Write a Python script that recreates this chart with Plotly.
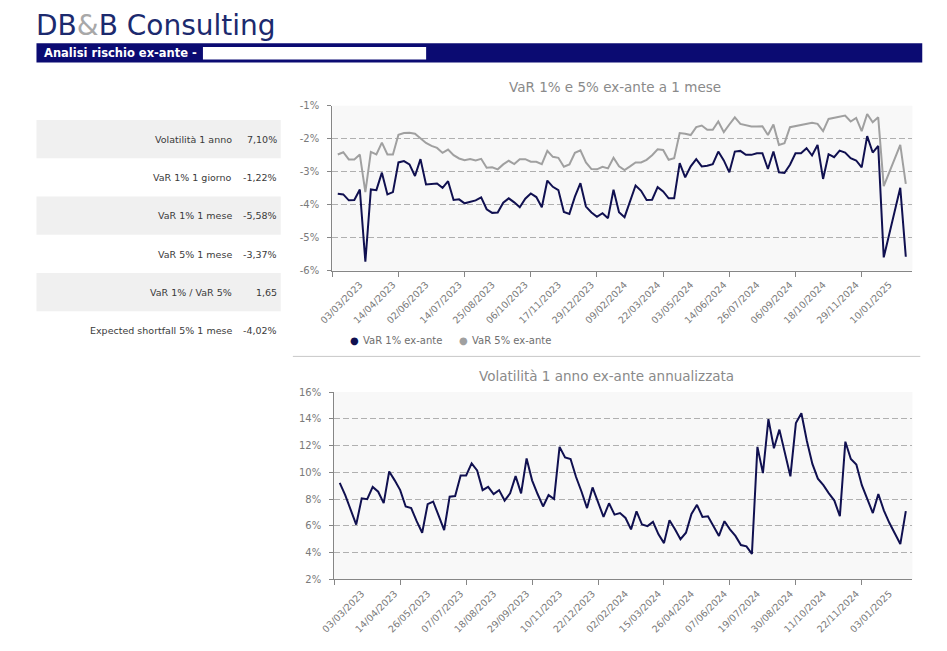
import plotly.graph_objects as go
import pandas as pd

# The page body keeps the browser's default 8px margin, so the figure is
# sized to fill the 947x651 window exactly together with that margin.
PAGE_W, PAGE_H = 947, 651
BODY_MARGIN = 8
W, H = PAGE_W - 2 * BODY_MARGIN, PAGE_H - 2 * BODY_MARGIN
FONT = "DejaVu Sans"

# ---------------- data ----------------
top_dates = [d.strftime("%d/%m/%Y") for d in pd.date_range("2023-02-03", "2025-01-31", freq="7D")
             if d != pd.Timestamp("2023-05-05")]
vol_dates = [d.strftime("%d/%m/%Y") for d in pd.date_range("2023-02-03", "2025-01-24", freq="7D")]

var1 = [-3.67, -3.69, -3.87, -3.86, -3.54, -5.73, -3.54, -3.56, -3.03, -3.69, -3.62, -2.72, -2.68, -2.78,
        -3.13, -2.62, -3.39, -3.38, -3.36, -3.49, -3.29, -3.86, -3.84, -3.96, -3.91, -3.87, -3.78, -4.14,
        -4.25,
        -4.24, -3.94, -3.81, -3.93, -4.08, -3.82, -3.66, -3.77, -4.08, -3.27, -3.46, -3.56, -4.22, -4.28,
        -3.76, -3.35, -4.06, -4.24, -4.37, -4.26, -4.41, -3.55, -4.23, -4.38, -3.93, -3.42, -3.58, -3.86,
        -3.85, -3.47, -3.60, -3.81, -3.81,
        -2.74, -3.17, -2.84, -2.62, -2.84, -2.82, -2.77, -2.39, -2.66, -3.02, -2.39, -2.37, -2.49, -2.49,
        -2.44, -2.44, -2.92, -2.39, -3.02, -3.04, -2.79, -2.44, -2.44, -2.29, -2.51, -2.19, -3.22, -2.47,
        -2.56, -2.36, -2.42, -2.59, -2.66, -2.87, -1.92, -2.42, -2.22, -5.60, -4.91, -4.20, -3.49, -5.58]

var5 = [-2.48, -2.41, -2.63, -2.63, -2.48, -3.62, -2.40, -2.48, -2.12, -2.48, -2.48, -1.88, -1.83, -1.82,
        -1.85, -2.00, -2.13, -2.22, -2.28, -2.43, -2.33, -2.50, -2.60, -2.65, -2.62, -2.66, -2.61, -2.88,
        -2.87,
        -2.93, -2.78, -2.67, -2.77, -2.62, -2.62, -2.70, -2.70, -2.77, -2.37, -2.55, -2.58, -2.85, -2.78,
        -2.43, -2.35, -2.72, -2.92, -2.93, -2.85, -2.90, -2.58, -2.84, -2.95, -2.84, -2.72, -2.72, -2.64,
        -2.50, -2.32, -2.34, -2.64, -2.59,
        -1.83, -1.85, -1.89, -1.65, -1.60, -1.73, -1.73, -1.48, -1.80, -1.57, -1.35, -1.55, -1.60, -1.63,
        -1.63, -1.62, -1.89, -1.57, -2.19, -2.14, -1.65, -1.62, -1.60, -1.57, -1.52, -1.55, -1.77, -1.40,
        -1.37, -1.35, -1.30, -1.48, -1.37, -1.77, -1.25, -1.50, -1.35, -3.44, -3.04, -2.62, -2.19, -3.37]

vol = [9.21, 8.30, 7.20, 6.10, 8.06, 7.99, 8.91, 8.55, 7.70, 10.06, 9.40, 8.67, 7.45, 7.33, 6.35, 5.49,
       7.62, 7.82, 6.76, 5.69, 8.18, 8.23, 9.77, 9.77, 10.67, 10.14, 8.67, 8.91, 8.38, 8.67, 7.89, 8.43,
       9.72, 8.43, 11.04, 9.40, 8.38, 7.45, 8.30, 8.01, 11.90, 11.11, 10.99, 9.65, 8.55, 7.33, 8.87, 7.77,
       6.67, 7.69, 6.84, 6.96, 6.59,
       5.74, 7.08, 6.10, 5.98, 6.30, 5.37, 4.71, 6.42, 5.74, 5.00, 5.49, 6.89, 7.57, 6.67, 6.72, 5.98,
       5.25, 6.35, 5.74, 5.25, 4.57, 4.47, 3.91, 11.90, 9.94, 13.97, 11.80, 13.19, 11.36, 9.70, 13.68,
       14.41, 12.34, 10.63, 9.53, 9.04, 8.43, 7.89, 6.72, 12.29, 10.99, 10.58, 9.04, 8.06, 6.96, 8.38,
       7.16, 6.23, 5.37, 4.64, 7.10]

top_tick_labels = ["03/03/2023", "14/04/2023", "02/06/2023", "14/07/2023", "25/08/2023", "06/10/2023",
                   "17/11/2023", "29/12/2023", "09/02/2024", "22/03/2024", "03/05/2024", "14/06/2024",
                   "26/07/2024", "06/09/2024", "18/10/2024", "29/11/2024", "10/01/2025"]
vol_tick_labels = ["03/03/2023", "14/04/2023", "26/05/2023", "07/07/2023", "18/08/2023", "29/09/2023",
                   "10/11/2023", "22/12/2023", "02/02/2024", "15/03/2024", "26/04/2024", "07/06/2024",
                   "19/07/2024", "30/08/2024", "11/10/2024", "22/11/2024", "03/01/2025"]

top_y_ticks = [-6, -5, -4, -3, -2, -1]
top_y_text = ["-6%", "-5%", "-4%", "-3%", "-2%", "-1%"]
vol_y_ticks = [2, 4, 6, 8, 10, 12, 14, 16]
vol_y_text = ["2%", "4%", "6%", "8%", "10%", "12%", "14%", "16%"]

table_labels = ["Volatilità 1 anno", "VaR 1% 1 giorno", "VaR 1% 1 mese", "VaR 5% 1 mese",
                "VaR 1% / VaR 5%", "Expected shortfall 5% 1 mese"]
table_values = ["7,10%", "-1,22%", "-5,58%", "-3,37%", "1,65", "-4,02%"]

# ---------------- helpers (page pixels -> paper fractions) ----------------
def px(x):
    return (x - BODY_MARGIN) / W

def py(y):
    return 1 - (y - BODY_MARGIN) / H

NAVY_LINE = "#101050"
GRAY_LINE = "#a0a0a0"
AXIS = "#868686"
TICKTXT = "#7a7a7a"

fig = go.Figure()
top_x = list(range(len(top_dates)))
vol_x = list(range(len(vol_dates)))

fig.add_trace(go.Scatter(x=top_x, y=var5, text=top_dates, mode="lines", name="VaR 5% ex-ante",
                         line=dict(color=GRAY_LINE, width=2), xaxis="x", yaxis="y", showlegend=False))
fig.add_trace(go.Scatter(x=top_x, y=var1, text=top_dates, mode="lines", name="VaR 1% ex-ante",
                         line=dict(color=NAVY_LINE, width=2), xaxis="x", yaxis="y", showlegend=False))
fig.add_trace(go.Scatter(x=vol_x, y=vol, text=vol_dates, mode="lines", name="Volatilità",
                         line=dict(color=NAVY_LINE, width=2), xaxis="x2", yaxis="y2", showlegend=False))

def xaxis_cfg(domain, dates, labels, anchor):
    n = len(dates)
    return dict(domain=domain, anchor=anchor, range=[-1, n + 0.2], tickmode="array",
                tickvals=[dates.index(l) for l in labels], ticktext=labels, tickangle=-45,
                ticks="", showline=True, linecolor=AXIS, linewidth=1, showgrid=False, zeroline=False,
                tickfont=dict(family=FONT, size=9.5, color=TICKTXT), ticklabelstandoff=4,
                minor=dict(tickmode="array", tickvals=list(range(-1, n + 1, 12)), ticks="outside",
                           ticklen=5, tickcolor=AXIS, tickwidth=1, showgrid=False))

def yaxis_cfg(domain, rng, vals, text, anchor):
    return dict(domain=domain, range=rng, tickmode="array", tickvals=vals, ticktext=text,
                anchor=anchor, showline=True, linecolor=AXIS, linewidth=1, ticks="outside",
                ticklen=4, tickcolor=AXIS, showgrid=True, gridcolor="#b0b0b0", griddash="6px,3px",
                gridwidth=1, zeroline=False, ticklabelstandoff=6,
                tickfont=dict(family=FONT, size=10, color=TICKTXT))

shapes = []
annotations = []

# header band
shapes.append(dict(type="rect", xref="paper", yref="paper", x0=px(22.7), x1=px(922), y0=py(57.5), y1=py(37.7),
                   fillcolor="#0b0b72", line=dict(width=0), layer="below"))
shapes.append(dict(type="rect", xref="paper", yref="paper", x0=px(191.7), x1=px(418.3), y0=py(54.3), y1=py(41.7),
                   fillcolor="#ffffff", line=dict(width=0), layer="below"))
# table rows
for k in range(len(table_labels)):
    if k % 2 == 0:
        shapes.append(dict(type="rect", xref="paper", yref="paper", x0=px(22.7), x1=px(270.7),
                           y0=py(155 + 39 * k), y1=py(116 + 39 * k), fillcolor="#f0f0f0",
                           line=dict(width=0), layer="below"))
    yc = 135.8 + 39 * k
    annotations.append(dict(xref="paper", yref="paper", x=px(223), y=py(yc), xanchor="right", yanchor="middle",
                            text=table_labels[k], showarrow=False,
                            font=dict(family=FONT, size=9.5, color="#3a3a3a")))
    annotations.append(dict(xref="paper", yref="paper", x=px(269), y=py(yc), xanchor="right", yanchor="middle",
                            text=table_values[k], showarrow=False,
                            font=dict(family=FONT, size=9.5, color="#3a3a3a")))
# separator line
shapes.append(dict(type="line", xref="paper", yref="paper", x0=px(283), x1=px(920), y0=py(357), y1=py(357),
                   line=dict(color="#c8c8c8", width=1)))

# header texts
annotations.append(dict(xref="paper", yref="paper", x=px(20), y=py(20), xanchor="left", yanchor="middle",
                        text="DB<span style='color:#a8a8a8'>&amp;</span>B Consulting", showarrow=False,
                        font=dict(family=FONT, size=28, color="#1c2a6e")))
annotations.append(dict(xref="paper", yref="paper", x=px(28), y=py(47.5), xanchor="left", yanchor="middle",
                        text="<b>Analisi rischio ex-ante - </b>", showarrow=False,
                        font=dict(family=FONT, size=11.5, color="#ffffff")))
# chart titles
annotations.append(dict(xref="paper", yref="paper", x=px(610), y=py(82), xanchor="center", yanchor="middle",
                        text="VaR 1% e 5% ex-ante a 1 mese", showarrow=False,
                        font=dict(family=FONT, size=13.5, color="#8a8a8a")))
annotations.append(dict(xref="paper", yref="paper", x=px(601), y=py(377), xanchor="center", yanchor="middle",
                        text="Volatilità 1 anno ex-ante annualizzata", showarrow=False,
                        font=dict(family=FONT, size=13.5, color="#8a8a8a")))
# legend (top chart)
legend_items = [("VaR 1% ex-ante", NAVY_LINE, 345.5), ("VaR 5% ex-ante", GRAY_LINE, 456.7)]
for name, col, xm in legend_items:
    annotations.append(dict(xref="paper", yref="paper", x=px(xm), y=py(341), xanchor="center", yanchor="middle",
                            text="●", showarrow=False, font=dict(family=FONT, size=10, color=col)))
    annotations.append(dict(xref="paper", yref="paper", x=px(xm + 6.5), y=py(341), xanchor="left", yanchor="middle",
                            text=name, showarrow=False, font=dict(family=FONT, size=10, color="#6e6e6e")))

fig.update_layout(
    width=W, height=H, autosize=False,
    margin=dict(l=0, r=0, t=0, b=0, pad=0),
    paper_bgcolor="#ffffff", plot_bgcolor="#f8f8f8",
    font=dict(family=FONT, color="#595959"),
    xaxis=xaxis_cfg([px(323), px(912)], top_dates, top_tick_labels, "y"),
    yaxis=yaxis_cfg([py(269.5), py(101.5)], [-6, -1], top_y_ticks, top_y_text, "x"),
    xaxis2=xaxis_cfg([px(325), px(912)], vol_dates, vol_tick_labels, "y2"),
    yaxis2=yaxis_cfg([py(584.3), py(393.3)], [2, 16], vol_y_ticks, vol_y_text, "x2"),
    shapes=shapes, annotations=annotations,
    showlegend=False,
)

fig.write_html("out.html", config={"displayModeBar": False})
